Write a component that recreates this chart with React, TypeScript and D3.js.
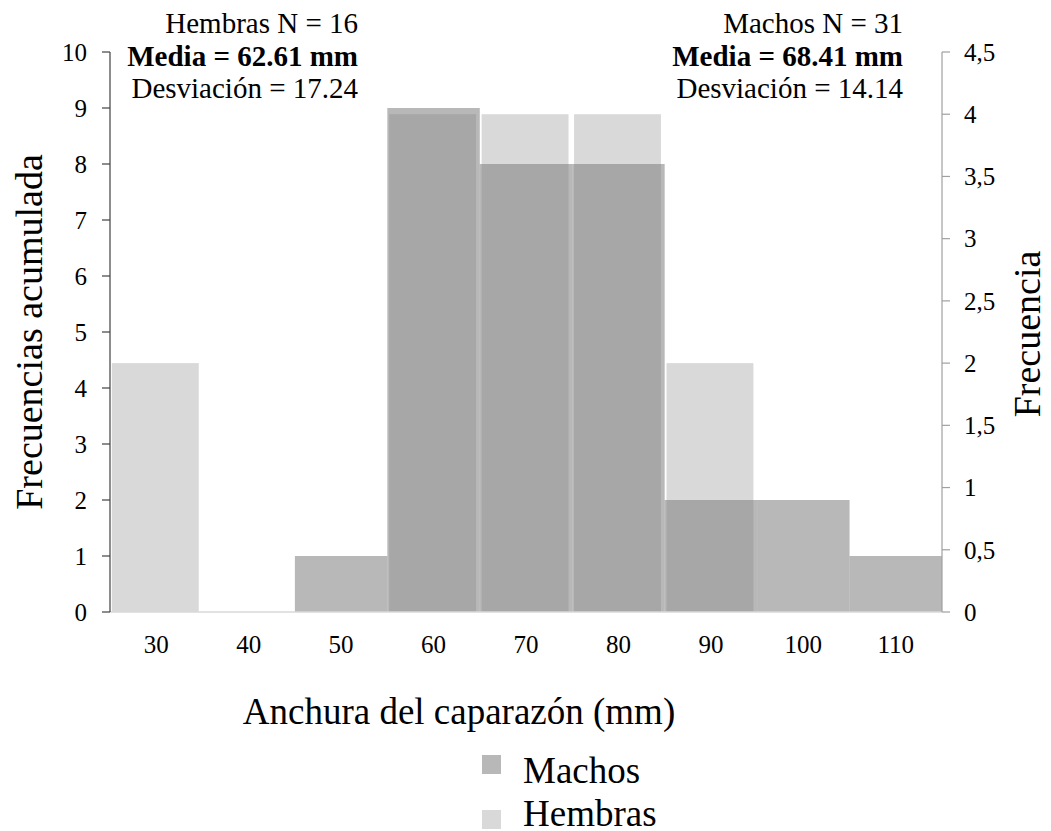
import { useEffect } from "react";
import * as d3 from "d3";

const categories = ["30", "40", "50", "60", "70", "80", "90", "100", "110"];
// Machos: frecuencias acumuladas (eje izquierdo)
const machos = [0, 0, 1, 9, 8, 8, 2, 2, 1];
// Hembras: frecuencia (eje derecho)
const hembras = [2, 0, 0, 4, 4, 4, 2, 0, 0];
const leftTicks = [0, 1, 2, 3, 4, 5, 6, 7, 8, 9, 10];
const rightTicks = [0, 0.5, 1, 1.5, 2, 2.5, 3, 3.5, 4, 4.5];
const hembrasInfo = ["Hembras N = 16", "Media = 62.61 mm", "Desviación = 17.24"];
const machosInfo = ["Machos N = 31", "Media = 68.41 mm", "Desviación = 14.14"];

const W = 1051;
const H = 831;
const FONT = "'Liberation Serif', 'DejaVu Serif', serif";

export default function App() {
  useEffect(() => {
    document.body.style.margin = "0";
  }, []);

  const margin = { top: 52, right: 109, bottom: 219, left: 110 };
  const x = d3
    .scaleBand<string>()
    .domain(categories)
    .range([margin.left, W - margin.right])
    .padding(0);
  const yL = d3.scaleLinear().domain([0, 10]).range([H - margin.bottom, margin.top]);
  const yR = d3.scaleLinear().domain([0, 4.5]).range([H - margin.bottom, margin.top]);
  const bw = x.bandwidth();
  const x0 = margin.left;
  const x1 = W - margin.right;
  const y0 = H - margin.bottom;

  const fmtR = (v: number) => String(v).replace(".", ",");

  return (
    <svg width={W} height={H} style={{ display: "block", background: "#fff", fontFamily: FONT }}>
      {/* Hembras (secondary axis) */}
      {hembras.map((v, i) => (
        <rect
          key={"h" + i}
          x={(x(categories[i]) ?? 0) + bw * 0.02}
          width={bw * 0.94}
          y={yR(v)}
          height={y0 - yR(v)}
          fill="#d9d9d9"
        />
      ))}
      {/* Machos (primary axis), semi transparent */}
      {machos.map((v, i) => (
        <rect
          key={"m" + i}
          x={x(categories[i]) ?? 0}
          width={bw}
          y={yL(v)}
          height={y0 - yL(v)}
          fill="rgb(125,125,125)"
          fillOpacity={0.55}
        />
      ))}

      {/* bottom axis line */}
      <line x1={x0} x2={x1} y1={y0} y2={y0} stroke="#d9d9d9" strokeWidth={1.5} />

      {/* left axis */}
      <line x1={x0} x2={x0} y1={yL(10)} y2={y0} stroke="#404040" strokeWidth={1.2} />
      {leftTicks.map((t) => (
        <g key={"lt" + t}>
          <line x1={x0 - 8} x2={x0} y1={yL(t)} y2={yL(t)} stroke="#404040" strokeWidth={1.2} />
          <text x={x0 - 23} y={yL(t)} dy="0.35em" textAnchor="end" fontSize={25} fill="#000">
            {t}
          </text>
        </g>
      ))}

      {/* right axis */}
      <line x1={x1} x2={x1} y1={yR(4.5)} y2={y0} stroke="#a0a0a0" strokeWidth={1.2} />
      {rightTicks.map((t) => (
        <g key={"rt" + t}>
          <line x1={x1} x2={x1 + 8} y1={yR(t)} y2={yR(t)} stroke="#a0a0a0" strokeWidth={1.2} />
          <text x={x1 + 22} y={yR(t)} dy="0.35em" textAnchor="start" fontSize={25} fill="#000">
            {fmtR(t)}
          </text>
        </g>
      ))}

      {/* x tick labels */}
      {categories.map((c) => (
        <text key={"xc" + c} x={(x(c) ?? 0) + bw / 2} y={653} textAnchor="middle" fontSize={25} fill="#000">
          {c}
        </text>
      ))}

      {/* axis titles */}
      <text x={459} y={724} textAnchor="middle" fontSize={37} fill="#000">
        Anchura del caparazón (mm)
      </text>
      <text transform="translate(42,332) rotate(-90)" textAnchor="middle" fontSize={38} fill="#000">
        Frecuencias acumulada
      </text>
      <text transform="translate(1040,334) rotate(-90)" textAnchor="middle" fontSize={38} fill="#000">
        Frecuencia
      </text>

      {/* info blocks */}
      {hembrasInfo.map((s, i) => (
        <text key={"hi" + i} x={358} y={33 + i * 32.5} textAnchor="end" fontSize={29} fontWeight={i === 1 ? "bold" : "normal"} fill="#000">
          {s}
        </text>
      ))}
      {machosInfo.map((s, i) => (
        <text key={"mi" + i} x={903} y={33 + i * 32.5} textAnchor="end" fontSize={29} fontWeight={i === 1 ? "bold" : "normal"} fill="#000">
          {s}
        </text>
      ))}

      {/* legend */}
      <rect x={482} y={755} width={19} height={19} fill="#b8b8b8" />
      <text x={523} y={783} fontSize={37} fill="#000">Machos</text>
      <rect x={482} y={810} width={19} height={19} fill="#d9d9d9" />
      <text x={523} y={826} fontSize={37} fill="#000">Hembras</text>
    </svg>
  );
}
